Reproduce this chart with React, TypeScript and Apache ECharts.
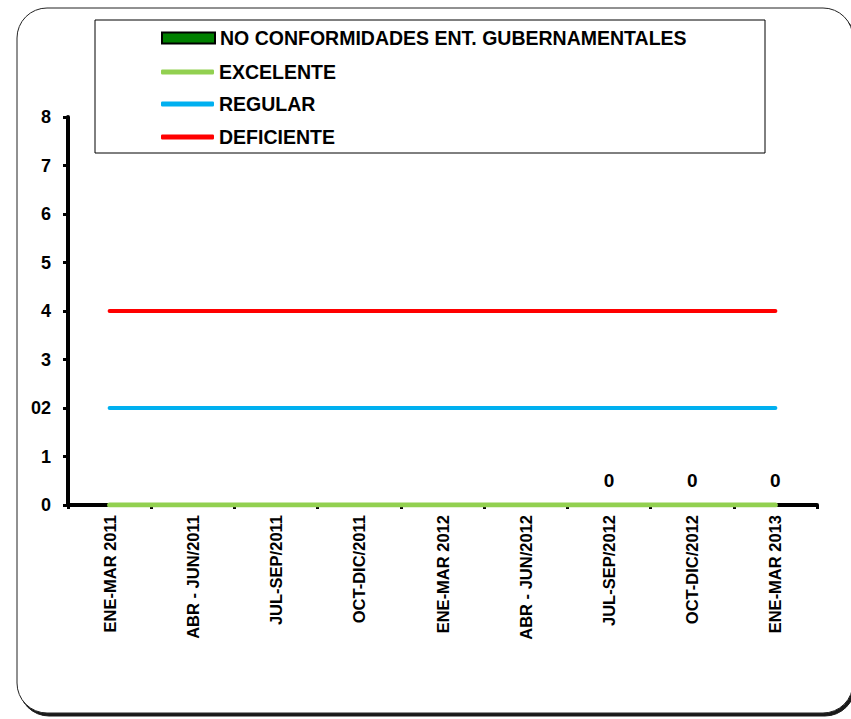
import React, { useEffect, useRef } from "react";
import * as echarts from "echarts";

const categories = [
  "ENE-MAR 2011",
  "ABR - JUN/2011",
  "JUL-SEP/2011",
  "OCT-DIC/2011",
  "ENE-MAR 2012",
  "ABR - JUN/2012",
  "JUL-SEP/2012",
  "OCT-DIC/2012",
  "ENE-MAR 2013",
];
const noConformidades = [0, 0, 0, 0, 0, 0, 0, 0, 0];
const labelShown = [false, false, false, false, false, false, true, true, true];
const excelente = [0, 0, 0, 0, 0, 0, 0, 0, 0];
const regular = [2, 2, 2, 2, 2, 2, 2, 2, 2];
const deficiente = [4, 4, 4, 4, 4, 4, 4, 4, 4];
const yTickLabels: Record<number, string> = { 0: "0", 1: "1", 2: "02", 3: "3", 4: "4", 5: "5", 6: "6", 7: "7", 8: "8" };

const FONT = 'Arial, "Liberation Sans", sans-serif';
const S_BAR = "NO CONFORMIDADES ENT. GUBERNAMENTALES";
const S_EXC = "EXCELENTE";
const S_REG = "REGULAR";
const S_DEF = "DEFICIENTE";

export default function App() {
  const ref = useRef<HTMLDivElement>(null);
  useEffect(() => {
    if (!ref.current) return;
    const chart = echarts.init(ref.current, undefined, { renderer: "svg" });
    const legendText = { fontFamily: FONT, fontWeight: "bold", fontSize: 19.5, color: "#000", lineHeight: 20 };
    const mkLegend = (name: string, top: number, h: number, icon: string) => ({
      data: [{ name, icon }],
      left: 161,
      top,
      padding: 0,
      itemWidth: 53,
      itemHeight: h,
      selectedMode: false,
      textStyle: legendText,
    });
    chart.setOption({
      animation: false,
      backgroundColor: "#fff",
      graphic: [
        {
          type: "rect",
          shape: { x: 17, y: 8, width: 836, height: 705, r: 30 },
          style: {
            fill: "#fff",
            stroke: "#222",
            lineWidth: 1,
            shadowColor: "rgba(0,0,0,0.9)",
            shadowOffsetX: 2,
            shadowOffsetY: 3,
            shadowBlur: 1,
          },
          z: -10,
        },
        {
          type: "rect",
          shape: { x: 95, y: 20, width: 670, height: 133 },
          style: { fill: "#fff", stroke: "#000", lineWidth: 1 },
          z: 1,
        },
      ],
      legend: [
        { ...mkLegend(S_BAR, 28, 11, "rect"), z: 5 },
        { ...mkLegend(S_EXC, 62, 5, "roundRect"), z: 5 },
        { ...mkLegend(S_REG, 94, 5, "roundRect"), z: 5 },
        { ...mkLegend(S_DEF, 127, 5, "roundRect"), z: 5 },
      ],
      grid: { left: 68, right: 34, top: 117, bottom: 214, containLabel: false },
      xAxis: {
        type: "category",
        data: categories,
        boundaryGap: true,
        axisLine: { show: true, lineStyle: { color: "#000", width: 4 } },
        axisTick: { show: true, length: 4, lineStyle: { color: "#000", width: 3 } },
        axisLabel: {
          rotate: 90,
          margin: 10,
          interval: 0,
          fontFamily: FONT,
          fontWeight: "bold",
          fontSize: 16.5,
          color: "#000",
        },
        splitLine: { show: false },
      },
      yAxis: {
        type: "value",
        min: 0,
        max: 8,
        interval: 1,
        axisLine: { show: true, lineStyle: { color: "#000", width: 4 } },
        axisTick: { show: true, length: 5, lineStyle: { color: "#000", width: 3 } },
        axisLabel: {
          margin: 17,
          fontFamily: FONT,
          fontWeight: "bold",
          fontSize: 18,
          color: "#000",
          formatter: (v: number) => yTickLabels[v] ?? String(v),
        },
        splitLine: { show: false },
      },
      series: [
        {
          name: S_BAR,
          type: "bar",
          barWidth: "50%",
          itemStyle: { color: "#008000", borderColor: "#000", borderWidth: 2 },
          data: noConformidades.map((v, i) => ({
            value: v,
            label: {
              show: labelShown[i],
              position: "top",
              distance: 14,
              fontFamily: FONT,
              fontWeight: "bold",
              fontSize: 19,
              color: "#000",
              formatter: "{c}",
            },
          })),
        },
        {
          name: S_EXC,
          type: "line",
          data: excelente,
          symbol: "none",
          color: "#92D050",
          lineStyle: { color: "#92D050", width: 5, cap: "round" },
          z: 3,
        },
        {
          name: S_REG,
          type: "line",
          data: regular,
          symbol: "none",
          color: "#00B0F0",
          lineStyle: { color: "#00B0F0", width: 4, cap: "round" },
          z: 3,
        },
        {
          name: S_DEF,
          type: "line",
          data: deficiente,
          symbol: "none",
          color: "#FF0000",
          lineStyle: { color: "#FF0000", width: 4, cap: "round" },
          z: 3,
        },
      ],
    });
    return () => chart.dispose();
  }, []);
  return (
    <div
      ref={ref}
      style={{ position: "fixed", left: 0, top: 0, width: 851, height: 719 }}
    />
  );
}
